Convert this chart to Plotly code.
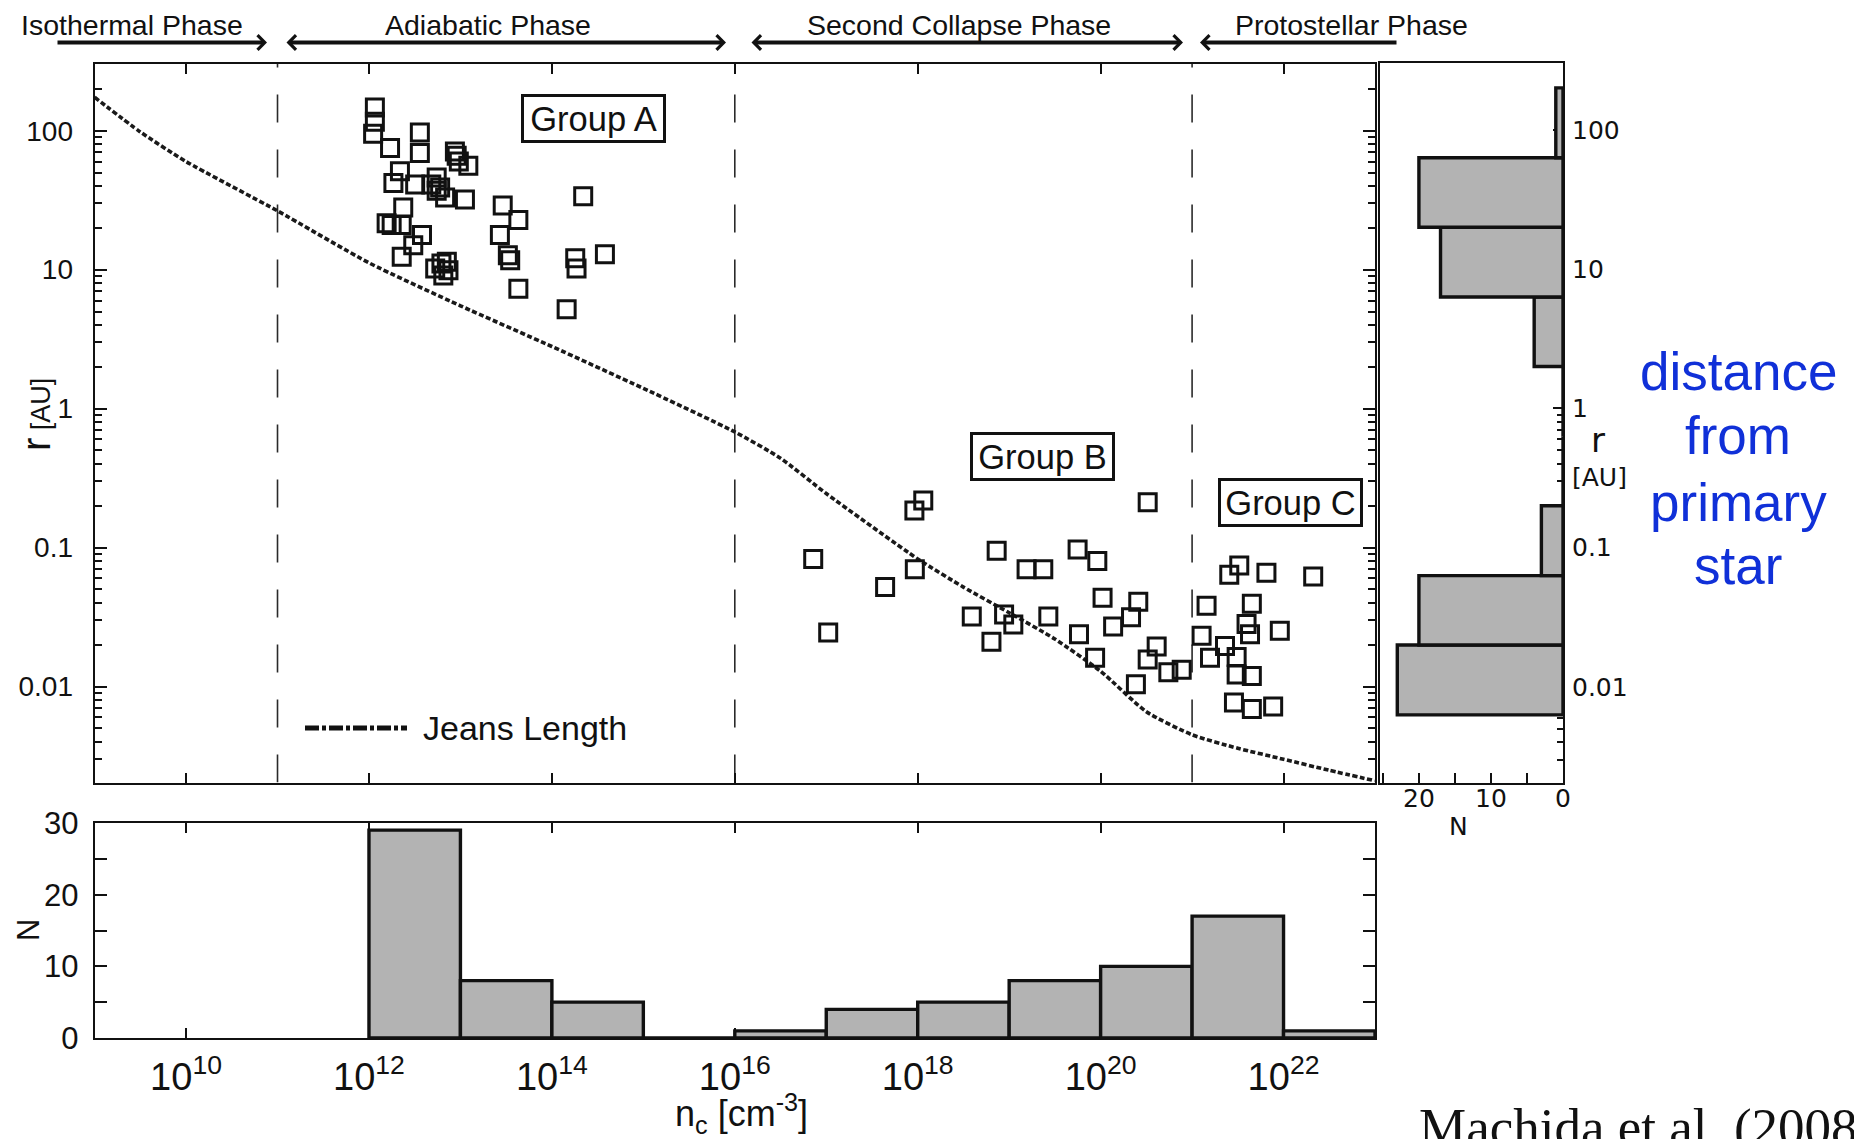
import plotly.graph_objects as go

W, H = 1854, 1139

SANS = "Liberation Sans, Arial, Helvetica, sans-serif"
WIDE = "DejaVu Sans, Verdana, sans-serif"
SERIF = "Liberation Serif, Times New Roman, serif"
INK = "#111111"

# ---------------- data ----------------
# Fragment separations r [AU] versus central density n_c [cm^-3]
GROUP_A_NC = [1.16e12, 1.16e12, 1.11e12, 1.70e12, 3.6e12, 3.6e12, 2.18e12, 1.85e12, 3.2e12, 5.5e12,
              6.0e12, 5.5e12, 6.8e12, 8.7e12, 9.1e12, 9.6e12, 2.37e12, 1.56e12, 1.77e12, 2.28e12,
              3.8e12, 3.05e12, 2.28e12, 5.3e12, 6.2e12, 7.1e12, 7.4e12, 6.5e12, 4.8e12,
              1.12e13, 1.22e13, 2.9e13, 4.3e13, 2.7e13, 3.3e13, 3.5e13, 4.3e13,
              2.2e14, 1.8e14, 1.86e14, 3.8e14, 1.45e14]
GROUP_A_R = [147, 116, 95, 75, 97, 69, 51, 42, 41, 46,
             39, 37, 33, 71, 66, 60, 28, 21.6, 21, 21,
             17.8, 15, 12.4, 10.2, 11.1, 11.4, 9.9, 9.1, 41,
             32, 56, 29, 22.8, 17.8, 12.7, 11.7, 7.3,
             33.7, 12.1, 10.2, 12.9, 5.2]

GROUP_B_NC = [7.2e16, 1.05e17, 4.4e17, 9.3e17, 9.2e17, 1.15e18, 7.3e18, 3.9e18, 8.8e18, 6.4e18,
              1.11e19, 1.55e19, 2.36e19, 2.68e19, 5.6e19, 9.2e19, 5.8e19, 8.7e19, 1.05e20, 1.37e20,
              3.27e20, 2.58e20, 2.15e20, 4.1e20, 3.27e20, 2.43e20, 5.5e20, 7.7e20]
GROUP_B_R = [0.083, 0.0245, 0.052, 0.070, 0.185, 0.218, 0.095, 0.032, 0.033, 0.021,
             0.028, 0.070, 0.070, 0.032, 0.097, 0.080, 0.0238, 0.0161, 0.0435, 0.0271,
             0.212, 0.0408, 0.0315, 0.0194, 0.0157, 0.0104, 0.0127, 0.0132]

GROUP_C_NC = [2.55e21, 3.28e21, 6.5e21, 2.11e22, 1.44e21, 4.5e21, 3.94e21, 9.1e21, 1.27e21, 4.3e21,
              2.29e21, 1.57e21, 3.07e21, 3.07e21, 4.5e21, 2.87e21, 4.5e21, 7.7e21]
GROUP_C_R = [0.0638, 0.0745, 0.0659, 0.0619, 0.0382, 0.0394, 0.0282, 0.0252, 0.0232, 0.0238,
             0.0196, 0.0161, 0.0163, 0.0122, 0.0119, 0.0077, 0.0069, 0.0072]

# Jeans length along the collapse
JEANS_NC = [1e9, 3.16e9, 1e10, 1e11, 1e12, 1e13, 1e14, 1e15, 1e16, 3.16e16, 1e17,
            1e18, 3.16e18, 1e19, 3.16e19, 1e20, 3.16e20, 1e21, 3.16e21, 1e22, 3.16e22, 1e23]
JEANS_R = [174, 98, 60, 26.5, 11.2, 5.5, 2.8, 1.4, 0.68, 0.44, 0.245,
           0.083, 0.052, 0.034, 0.022, 0.0129, 0.0066, 0.0045, 0.0036, 0.0030, 0.0025, 0.0021]

# Phase boundaries (densities)
PHASE_EDGES_NC = [1e11, 1e16, 1e21]
PHASE_NAMES = ["Isothermal Phase", "Adiabatic Phase", "Second Collapse Phase", "Protostellar Phase"]

# Histogram of fragmentation density
NC_BIN_EDGES = [1e12, 1e13, 1e14, 1e15, 1e16, 1e17, 1e18, 1e19, 1e20, 1e21, 1e22, 1e23]
NC_COUNTS = [29, 8, 5, 0, 1, 4, 5, 8, 10, 17, 1]

# Histogram of separation
R_BIN_EDGES = [0.0063, 0.02, 0.063, 0.2, 0.63, 2.0, 6.3, 20, 63, 200]
R_COUNTS = [23, 20, 3, 0, 0, 4, 17, 20, 1]

NC_TICKS = [1e10, 1e12, 1e14, 1e16, 1e18, 1e20, 1e22]
NC_TICK_TEXT = ["10<sup>10</sup>", "10<sup>12</sup>", "10<sup>14</sup>", "10<sup>16</sup>",
                "10<sup>18</sup>", "10<sup>20</sup>", "10<sup>22</sup>"]
R_TICKS = [0.01, 0.1, 1, 10, 100]
R_TICK_TEXT = ["0.01", "0.1", "1", "10", "100"]

# ---------------- layout geometry ----------------
LOG_NC_RANGE = [9, 23]
LOG_R_RANGE = [-2.69, 2.48]


def px(x):
    return x / W


def py(y):
    return 1 - y / H


MAIN_X = [px(94.6), px(1375)]
MAIN_Y = [py(782.5), py(64)]
HIST_Y = [py(1038), py(823)]
SIDE_X = [px(1380), px(1563)]
SIDE_Y = [py(783), py(63)]

R_MINOR = [m * 10.0 ** e for e in range(-3, 3) for m in range(2, 10)]

fig = go.Figure()

# ---------------- main panel ----------------
r_lo, r_hi = 10 ** LOG_R_RANGE[0], 10 ** LOG_R_RANGE[1]
for b in PHASE_EDGES_NC:
    fig.add_trace(go.Scatter(x=[b, b], y=[r_lo, r_hi], mode="lines",
                             line=dict(color="#2a2a2a", width=1.6, dash="28px,27px"),
                             xaxis="x", yaxis="y", showlegend=False, hoverinfo="skip"))

fig.add_trace(go.Scatter(x=JEANS_NC, y=JEANS_R, mode="lines", name="Jeans Length",
                         line=dict(color="#1a1a1a", width=3.6, dash="5px,2.5px", shape="spline",
                                   smoothing=0.6),
                         xaxis="x", yaxis="y", showlegend=False))

for nc, r, name in [(GROUP_A_NC, GROUP_A_R, "Group A"),
                    (GROUP_B_NC, GROUP_B_R, "Group B"),
                    (GROUP_C_NC, GROUP_C_R, "Group C")]:
    fig.add_trace(go.Scatter(x=nc, y=r, mode="markers", name=name,
                             marker=dict(symbol="square-open", size=17, color=INK,
                                         line=dict(width=3, color=INK)),
                             xaxis="x", yaxis="y", showlegend=False))

# ---------------- bottom histogram (n_c) ----------------
for lo, hi, c in zip(NC_BIN_EDGES[:-1], NC_BIN_EDGES[1:], NC_COUNTS):
    fig.add_trace(go.Scatter(x=[lo, lo, hi, hi, lo], y=[0, c, c, 0, 0], mode="lines",
                             fill="toself", fillcolor="#b3b3b3",
                             line=dict(color=INK, width=3.4),
                             xaxis="x2", yaxis="y2", showlegend=False, hoverinfo="skip"))

# ---------------- side histogram (r) ----------------
for lo, hi, c in zip(R_BIN_EDGES[:-1], R_BIN_EDGES[1:], R_COUNTS):
    fig.add_trace(go.Scatter(x=[0, c, c, 0, 0], y=[lo, lo, hi, hi, lo], mode="lines",
                             fill="toself", fillcolor="#b3b3b3",
                             line=dict(color=INK, width=3.4),
                             xaxis="x3", yaxis="y3", showlegend=False, hoverinfo="skip"))

AX = dict(showgrid=False, zeroline=False, showline=True, linecolor=INK, linewidth=2,
          tickcolor=INK, tickwidth=1.5, automargin=False)

annotations = []

# phase labels across the top
for name, cx in zip(PHASE_NAMES, [112 * 1.1824, 413 * 1.1824, 811 * 1.1824, 1143 * 1.1824]):
    annotations.append(dict(x=px(cx), y=py(25), xref="paper", yref="paper", text=name,
                            showarrow=False, xanchor="center", yanchor="middle",
                            font=dict(family=SANS, size=28.5, color=INK)))

# phase arrows: (head x, tail x, sides)
for hx, tx, side in [(267, 56, "end"), (726, 285, "end+start"),
                     (1183, 750, "end+start"), (1200, 1398, "end")]:
    annotations.append(dict(x=px(hx), y=py(42.5), xref="paper", yref="paper",
                            ax=tx - hx, ay=0, axref="pixel", ayref="pixel", text="",
                            showarrow=True, arrowhead=4, arrowsize=0.7, arrowwidth=4,
                            arrowcolor=INK, arrowside=side, standoff=0, startstandoff=0))

# group boxes
for label, cx, cy in [("Group A", 593.5, 119), ("Group B", 1042, 457), ("Group C", 1290, 502)]:
    annotations.append(dict(x=px(cx), y=py(cy), xref="paper", yref="paper", text=label,
                            showarrow=False, xanchor="center", yanchor="middle",
                            width=139, height=43, borderpad=0, borderwidth=3,
                            bordercolor=INK, bgcolor="white",
                            font=dict(family=SANS, size=34.5, color=INK)))

# Jeans length key
annotations.append(dict(x=px(421), y=py(728), xref="paper", yref="paper", text="Jeans Length",
                        showarrow=False, xanchor="left", yanchor="middle",
                        font=dict(family=SANS, size=34, color=INK)))

# axis titles
annotations.append(dict(x=px(36), y=py(415), xref="paper", yref="paper",
                        text='<span style="font-size:40px">r</span> [AU]', textangle=-90,
                        showarrow=False, xanchor="center", yanchor="middle",
                        font=dict(family=SANS, size=27, color=INK)))
annotations.append(dict(x=px(28), y=py(930), xref="paper", yref="paper", text="N",
                        textangle=-90, showarrow=False, xanchor="center", yanchor="middle",
                        font=dict(family=SANS, size=31, color=INK)))
annotations.append(dict(x=px(741), y=py(1113), xref="paper", yref="paper",
                        text="n<sub>c</sub> [cm<sup>-3</sup>]", showarrow=False,
                        xanchor="center", yanchor="middle",
                        font=dict(family=SANS, size=36, color=INK)))

# side histogram labels
annotations.append(dict(x=px(1589), y=py(440), xref="paper", yref="paper", text="r",
                        showarrow=False, xanchor="left", yanchor="middle",
                        font=dict(family=WIDE, size=34, color=INK)))
annotations.append(dict(x=px(1570), y=py(478), xref="paper", yref="paper", text="[AU]",
                        showarrow=False, xanchor="left", yanchor="middle",
                        font=dict(family=WIDE, size=25, color=INK)))
annotations.append(dict(x=px(1458), y=py(826), xref="paper", yref="paper", text="N",
                        showarrow=False, xanchor="center", yanchor="middle",
                        font=dict(family=WIDE, size=25, color=INK)))

# side note
for word, cy in zip(["distance", "from", "primary", "star"], [371, 436, 502, 565]):
    annotations.append(dict(x=px(1738), y=py(cy), xref="paper", yref="paper", text=word,
                            showarrow=False, xanchor="center", yanchor="middle",
                            font=dict(family=SANS, size=53, color="#1030d8")))

# reference
annotations.append(dict(x=px(1417), y=py(1127), xref="paper", yref="paper",
                        text="Machida et al. (2008)", showarrow=False,
                        xanchor="left", yanchor="middle",
                        font=dict(family=SERIF, size=53, color=INK)))

shapes = [dict(type="line", xref="paper", yref="paper", x0=px(305), x1=px(407),
               y0=py(728), y1=py(728), line=dict(color=INK, width=5, dash="14px,3px,4px,3px"))]

fig.update_layout(
    width=W, height=H, margin=dict(l=0, r=0, t=0, b=0, pad=0, autoexpand=False),
    paper_bgcolor="white", plot_bgcolor="white", showlegend=False,
    xaxis=dict(domain=MAIN_X, anchor="y", type="log", range=LOG_NC_RANGE,
               tickvals=NC_TICKS, showticklabels=False, ticks="inside", ticklen=10,
               mirror="ticks", **AX),
    yaxis=dict(domain=MAIN_Y, anchor="x", type="log", range=LOG_R_RANGE,
               tickvals=R_TICKS, ticktext=R_TICK_TEXT, ticks="inside", ticklen=12,
               minor=dict(ticks="inside", ticklen=7, tickvals=R_MINOR, tickcolor=INK),
               mirror="ticks", ticklabelstandoff=14,
               tickfont=dict(family=SANS, size=28, color=INK), **AX),
    xaxis2=dict(domain=MAIN_X, anchor="y2", type="log", range=LOG_NC_RANGE,
                tickvals=NC_TICKS, ticktext=NC_TICK_TEXT, ticks="inside", ticklen=10,
                mirror="ticks", ticklabelstandoff=4,
                tickfont=dict(family=SANS, size=38, color=INK), **AX),
    yaxis2=dict(domain=HIST_Y, anchor="x2", range=[0, 30], tickvals=[0, 10, 20, 30],
                ticks="inside", ticklen=12,
                minor=dict(ticks="inside", ticklen=12, tickvals=[5, 15, 25], tickcolor=INK),
                mirror="ticks", ticklabelstandoff=8,
                tickfont=dict(family=SANS, size=31, color=INK), **AX),
    xaxis3=dict(domain=SIDE_X, anchor="y3", range=[25.4, 0], tickvals=[0, 10, 20],
                ticks="inside", ticklen=10,
                minor=dict(ticks="inside", ticklen=10, tickvals=[5, 15, 25], tickcolor=INK),
                mirror=True, ticklabelstandoff=-8,
                tickfont=dict(family=WIDE, size=25, color=INK), **AX),
    yaxis3=dict(domain=SIDE_Y, anchor="x3", side="right", type="log", range=LOG_R_RANGE,
                tickvals=R_TICKS, ticktext=R_TICK_TEXT, ticks="inside", ticklen=10,
                minor=dict(ticks="inside", ticklen=6, tickvals=R_MINOR, tickcolor=INK),
                mirror=True, ticklabelstandoff=2, layer="below traces",
                tickfont=dict(family=WIDE, size=25, color=INK), **AX),
    annotations=annotations,
    shapes=shapes,
)

fig.write_html("out.html")
